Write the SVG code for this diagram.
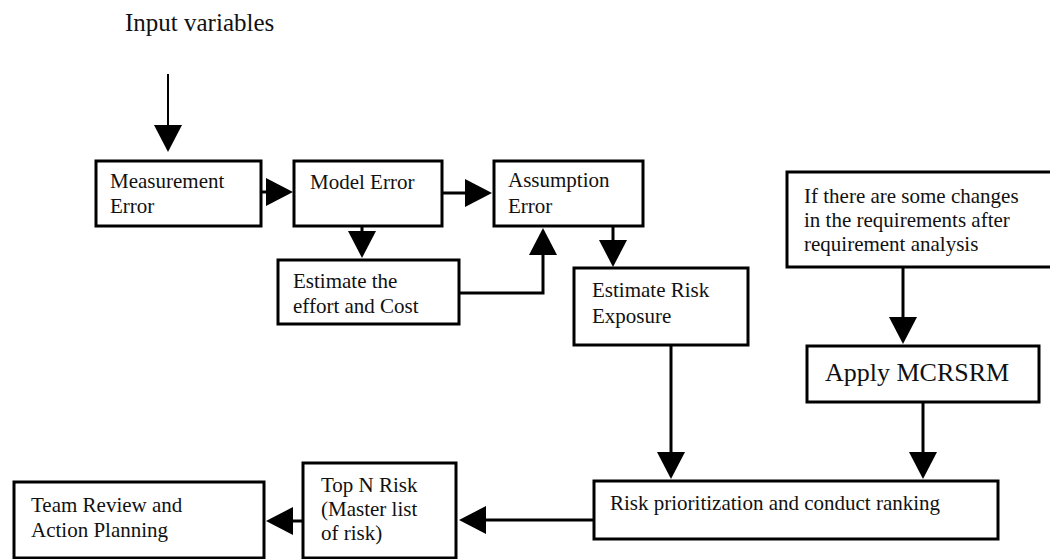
<svg xmlns="http://www.w3.org/2000/svg" width="1050" height="559" viewBox="0 0 1050 559">
  <style>
    .box { fill: #ffffff; stroke: #000000; stroke-width: 3; }
    .lbl { font-family: "Liberation Serif", "Times New Roman", serif; font-size: 21px; fill: #111111; }
    .big { font-size: 26px; }
    .title { font-size: 25px; }
    .wire { fill: none; stroke: #000000; stroke-width: 3; marker-end: url(#head); }
    .thin { stroke-width: 2; }
  </style>
  <defs>
    <!-- solid triangular arrowhead; tip sits 6px past the line end -->
    <marker id="head" markerUnits="userSpaceOnUse" markerWidth="28" markerHeight="28" refX="21" refY="14" orient="auto" overflow="visible">
      <path d="M0,0 L27,14 L0,28 Z" fill="#000000"/>
    </marker>
  </defs>

  <rect width="1050" height="559" fill="#ffffff"/>

  <text class="lbl title" x="125" y="31">Input variables</text>

  <g id="connectors">
    <path class="wire thin" d="M168,74 V146"/>
    <path class="wire" d="M261,192 H287"/>
    <path class="wire" d="M443,193 H486"/>
    <path class="wire" d="M362,227 V252"/>
    <path class="wire" d="M460,293 H543 V234"/>
    <path class="wire" d="M613,227 V261"/>
    <path class="wire" d="M671,346 V473"/>
    <path class="wire" d="M903,268 V338"/>
    <path class="wire" d="M923,403 V473"/>
    <path class="wire" d="M593,520 H465"/>
    <path class="wire" d="M302,521 H272"/>
  </g>

  <g id="measurement-error">
    <rect class="box" x="96" y="161" width="165" height="65"/>
    <text class="lbl" x="110" y="188">Measurement</text>
    <text class="lbl" x="110" y="213">Error</text>
  </g>

  <g id="model-error">
    <rect class="box" x="294" y="161" width="148" height="65"/>
    <text class="lbl" x="310" y="189">Model Error</text>
  </g>

  <g id="assumption-error">
    <rect class="box" x="494" y="161" width="149" height="65"/>
    <text class="lbl" x="508" y="187">Assumption</text>
    <text class="lbl" x="508" y="213">Error</text>
  </g>

  <g id="estimate-effort">
    <rect class="box" x="278" y="260" width="181" height="64"/>
    <text class="lbl" x="293" y="288">Estimate the</text>
    <text class="lbl" x="293" y="313">effort and Cost</text>
  </g>

  <g id="estimate-risk-exposure">
    <rect class="box" x="574" y="268" width="174" height="77"/>
    <text class="lbl" x="592" y="297">Estimate Risk</text>
    <text class="lbl" x="592" y="323">Exposure</text>
  </g>

  <g id="requirement-changes">
    <rect class="box" x="787" y="172" width="290" height="95"/>
    <text class="lbl" x="804" y="203">If there are some changes</text>
    <text class="lbl" x="804" y="227">in the requirements after</text>
    <text class="lbl" x="804" y="251">requirement analysis</text>
  </g>

  <g id="apply-mcrsrm">
    <rect class="box" x="807" y="346" width="232" height="56"/>
    <text class="lbl big" x="825" y="381">Apply MCRSRM</text>
  </g>

  <g id="risk-prioritization">
    <rect class="box" x="594" y="481" width="404" height="58"/>
    <text class="lbl" x="610" y="510">Risk prioritization and conduct ranking</text>
  </g>

  <g id="top-n-risk">
    <rect class="box" x="303" y="463" width="153" height="95"/>
    <text class="lbl" x="321" y="492">Top N Risk</text>
    <text class="lbl" x="321" y="516">(Master list</text>
    <text class="lbl" x="321" y="540">of risk)</text>
  </g>

  <g id="team-review">
    <rect class="box" x="14" y="482" width="250" height="76"/>
    <text class="lbl" x="31" y="512">Team Review and</text>
    <text class="lbl" x="31" y="537">Action Planning</text>
  </g>
</svg>
